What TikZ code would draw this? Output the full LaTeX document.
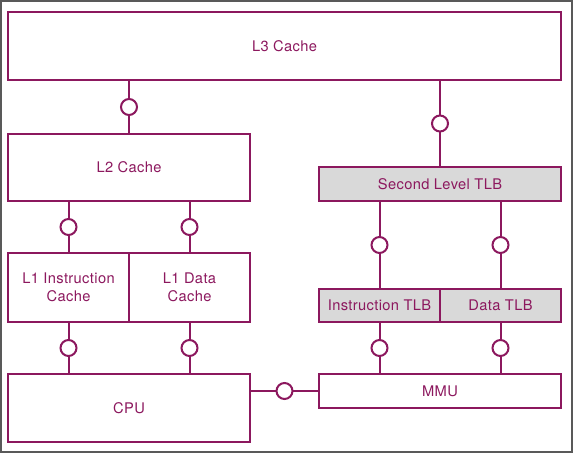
\documentclass[tikz,border=0pt]{standalone}
\usepackage{fontspec}
\setmainfont{TeX Gyre Heros}[LetterSpace=2.5]
\usetikzlibrary{positioning}
\definecolor{plum}{RGB}{140,24,94}
\definecolor{tlbgray}{RGB}{217,217,217}
\definecolor{framegray}{RGB}{89,89,89}

\begin{document}
\begin{tikzpicture}[x=0.75pt, y=-0.75pt,
  box/.style={draw=plum, line width=1.5pt, text=plum, inner sep=0pt, align=center,
    font=\fontsize{11}{13.5}\selectfont},
  tlb/.style={box, fill=tlbgray},
  port/.style={circle, draw=plum, fill=white, line width=1.5pt, minimum size=12pt, inner sep=0pt},
  link/.style={draw=plum, line width=1.5pt}]
\useasboundingbox (0,0) rectangle (573,453);
\draw[line width=1.5pt, framegray] (1,1) rectangle (572,452);

% caches
\node[box, minimum width=414.75pt, minimum height=51pt] (l3) at (284.5,46) {L3 Cache};
\node[box, minimum width=181.5pt, minimum height=50.25pt] (l2) at (129,167.5) {L2 Cache};
\node[box, minimum width=90.75pt, minimum height=51.75pt] (l1i) at (68.5,287.5) {L1 Instruction\\Cache};
\node[box, minimum width=90.75pt, minimum height=51.75pt] (l1d) at (189.5,287.5) {L1 Data\\Cache};
\node[box, minimum width=181.5pt, minimum height=51pt] (cpu) at (129,408) {CPU};

% tlbs
\node[tlb, minimum width=181.5pt, minimum height=25.5pt] (stlb) at (440,184) {Second Level TLB};
\node[tlb, minimum width=90.75pt, minimum height=24.75pt] (itlb) at (379.5,305.5) {Instruction TLB};
\node[tlb, minimum width=90.75pt, minimum height=24.75pt] (dtlb) at (500.5,305.5) {Data TLB};
\node[box, minimum width=181.5pt, minimum height=25.5pt] (mmu) at (440,391) {MMU};

% links
\draw[link] (l3.south -| l2.north) -- node[port] (p1) {} (l2.north);
\draw[link] (l3.south -| stlb.north) -- node[port] (p2) {} (stlb.north);
\draw[link] (l2.south -| l1i.north) -- node[port] (p3) {} (l1i.north);
\draw[link] (l2.south -| l1d.north) -- node[port] (p4) {} (l1d.north);
\draw[link] (l1i.south) -- node[port] (p5) {} (l1i.south |- cpu.north);
\draw[link] (l1d.south) -- node[port] (p6) {} (l1d.south |- cpu.north);
\draw[link] (stlb.south -| itlb.north) -- node[port] (p7) {} (itlb.north);
\draw[link] (stlb.south -| dtlb.north) -- node[port] (p8) {} (dtlb.north);
\draw[link] (itlb.south) -- node[port] (p9) {} (itlb.south |- mmu.north);
\draw[link] (dtlb.south) -- node[port] (p10) {} (dtlb.south |- mmu.north);
\draw[link] (cpu.east |- mmu.west) -- node[port] (p11) {} (mmu.west);
\end{tikzpicture}
\end{document}
